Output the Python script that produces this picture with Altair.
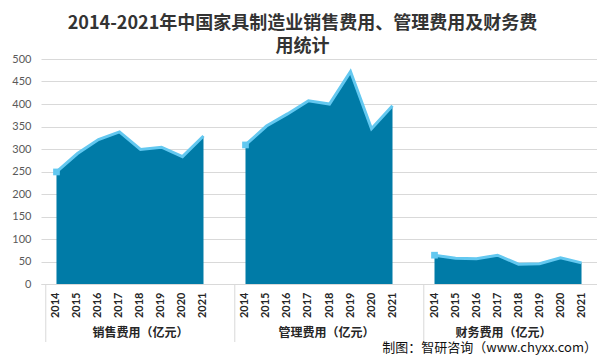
import altair as alt
import pandas as pd

years = ["2014", "2015", "2016", "2017", "2018", "2019", "2020", "2021"]
categories = ["销售费用（亿元）", "管理费用（亿元）", "财务费用（亿元）"]
sales = [249, 290, 321, 338, 299, 304, 283, 329]
admin = [309, 351, 378, 407, 400, 472, 345, 396]
finance = [64, 57, 56, 64, 44, 45, 58, 47]

title_lines = ["2014-2021年中国家具制造业销售费用、管理费用及财务费", "用统计"]
footer = "制图：智研咨询（www.chyxx.com）"

# category keys along one shared x axis, with one empty slot between groups
domain = []
rows = []
for i, (cat, vals) in enumerate(zip(categories, [sales, admin, finance])):
    if i > 0:
        domain.append(f"s{i}")
    for yr, v in zip(years, vals):
        key = f"{i}-{yr}"
        domain.append(key)
        rows.append({"type": cat, "year": yr, "value": v, "key": key})
df = pd.DataFrame(rows)

W, H = 556, 225
AREA = "#007BA7"
LINE = "#63C8F0"
GRID = "#d9d9d9"
HALF_STEP = W / (len(domain) - 1 + 0.95) / 2

x = alt.X(
    "key:N", scale=alt.Scale(domain=domain, padding=0.475, align=0.5),
    axis=alt.Axis(title=None, labelAngle=270, labelFont="Lato", labelFontWeight="bold",
                  labelFontSize=11, labelColor="#262626", ticks=False, domainColor=GRID,
                  labelPadding=8, grid=False,
                  labelExpr="length(datum.label) > 4 ? slice(datum.label, 2) : ''"),
)
y = alt.Y(
    "value:Q", scale=alt.Scale(domain=[0, 500]), stack=None,
    axis=alt.Axis(title=None, values=list(range(0, 501, 50)), ticks=False, domain=False,
                  labelFont="Lato", labelFontSize=11, labelColor="#595959", gridColor=GRID,
                  labelPadding=10, minExtent=33, maxExtent=33),
)

base = alt.Chart(df)
area = base.mark_area(color=AREA, opacity=1).encode(x=x, y=y, detail="type:N")
line = base.mark_line(color=LINE, strokeWidth=3).encode(x=x, y=y, detail="type:N")
first = base.transform_filter("datum.year == '2014'")
pt = first.mark_point(shape="square", filled=True, size=45, color=LINE, opacity=1).encode(x=x, y=y)
div = first.mark_rule(color=GRID, strokeWidth=1, xOffset=-HALF_STEP).encode(
    x=x, y=alt.value(H + 1), y2=alt.value(H + 58))

layers = [area, line, pt, div]
# group labels under the year labels
label_anchor = {0: ("2018", 0), 1: ("2018", -3), 2: ("2017", 6)}
for i, cat in enumerate(categories):
    yr, dx = label_anchor[i]
    layers.append(
        base.transform_filter(f"datum.key == '{i}-{yr}'").mark_text(
            font="Noto Sans CJK SC", fontSize=12, fontWeight="bold", color="#262626",
            baseline="middle", align="center", dx=dx,
        ).encode(x=x, y=alt.value(H + 49), text="type:N")
    )
layers.append(
    base.transform_filter("datum.key == '2-2021'").mark_text(
        text=footer, font="Noto Sans CJK SC", fontSize=13, color="#111111",
        align="right", baseline="middle",
    ).encode(x=alt.value(W), y=alt.value(H + 64))
)

chart = alt.layer(*layers).properties(
    width=W, height=H,
    title=alt.Title(text=title_lines, fontSize=18, font="Noto Sans CJK SC", fontWeight="bold",
                    color="#333333", anchor="middle", frame="bounds", lineHeight=23, offset=-3),
    autosize=alt.AutoSizeParams(type="none"),
    padding={"left": 33, "top": 51, "right": 0, "bottom": 72},
).configure_view(stroke=None)

chart.save("out.html", embed_options={"renderer": "svg", "actions": False})
